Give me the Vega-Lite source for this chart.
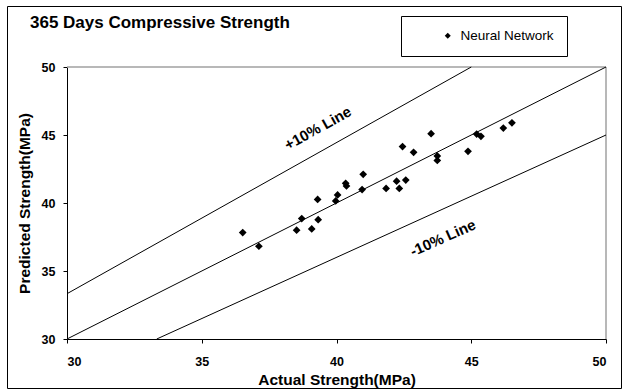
{
  "$schema": "https://vega.github.io/schema/vega-lite/v6.json",
  "autosize": {"type": "none"},
  "width": 614,
  "height": 382,
  "padding": {"left": 7, "top": 6, "right": 8, "bottom": 4},
  "background": "white",
  "config": {
    "view": {"stroke": "black", "strokeWidth": 1},
    "font": "Liberation Sans"
  },
  "title": {
    "text": "365 Days Compressive Strength",
    "anchor": "start",
    "frame": "group",
    "orient": "top",
    "offset": 0,
    "baseline": "alphabetic",
    "dx": 23,
    "dy": 39,
    "fontSize": 17,
    "fontWeight": "bold",
    "font": "Liberation Sans",
    "color": "black"
  },
  "datasets": {
    "points": [
      {"actual": 36.52, "predicted": 37.83, "series": "Neural Network"},
      {"actual": 37.12, "predicted": 36.82, "series": "Neural Network"},
      {"actual": 38.52, "predicted": 38.0, "series": "Neural Network"},
      {"actual": 38.71, "predicted": 38.86, "series": "Neural Network"},
      {"actual": 39.08, "predicted": 38.09, "series": "Neural Network"},
      {"actual": 39.3, "predicted": 40.26, "series": "Neural Network"},
      {"actual": 39.32, "predicted": 38.77, "series": "Neural Network"},
      {"actual": 39.97, "predicted": 40.15, "series": "Neural Network"},
      {"actual": 40.04, "predicted": 40.59, "series": "Neural Network"},
      {"actual": 40.34, "predicted": 41.45, "series": "Neural Network"},
      {"actual": 40.37, "predicted": 41.25, "series": "Neural Network"},
      {"actual": 40.95, "predicted": 40.99, "series": "Neural Network"},
      {"actual": 40.99, "predicted": 42.11, "series": "Neural Network"},
      {"actual": 41.84, "predicted": 41.07, "series": "Neural Network"},
      {"actual": 42.23, "predicted": 41.6, "series": "Neural Network"},
      {"actual": 42.33, "predicted": 41.07, "series": "Neural Network"},
      {"actual": 42.57, "predicted": 41.69, "series": "Neural Network"},
      {"actual": 42.45, "predicted": 44.15, "series": "Neural Network"},
      {"actual": 42.86, "predicted": 43.73, "series": "Neural Network"},
      {"actual": 43.51, "predicted": 45.1, "series": "Neural Network"},
      {"actual": 43.74, "predicted": 43.46, "series": "Neural Network"},
      {"actual": 43.74, "predicted": 43.13, "series": "Neural Network"},
      {"actual": 44.88, "predicted": 43.8, "series": "Neural Network"},
      {"actual": 45.2, "predicted": 45.07, "series": "Neural Network"},
      {"actual": 45.36, "predicted": 44.9, "series": "Neural Network"},
      {"actual": 46.19, "predicted": 45.51, "series": "Neural Network"},
      {"actual": 46.51, "predicted": 45.9, "series": "Neural Network"}
    ],
    "lines": [
      {"line": "equal", "actual": 30, "predicted": 30},
      {"line": "equal", "actual": 50, "predicted": 50},
      {"line": "plus10", "actual": 30, "predicted": 33.33},
      {"line": "plus10", "actual": 45, "predicted": 50},
      {"line": "minus10", "actual": 33.33, "predicted": 30},
      {"line": "minus10", "actual": 50, "predicted": 45}
    ],
    "edges": [
      {"edge": "top", "actual": 30, "predicted": 50},
      {"edge": "top", "actual": 50, "predicted": 50},
      {"edge": "right", "actual": 50, "predicted": 50},
      {"edge": "right", "actual": 50, "predicted": 30}
    ],
    "notes": [
      {"note": "+10% Line", "actual": 39.31, "predicted": 45.5, "tilt": -29},
      {"note": "-10% Line", "actual": 43.95, "predicted": 37.43, "tilt": -24}
    ]
  },
  "encoding": {
    "x": {
      "field": "actual",
      "type": "quantitative",
      "scale": {"domain": [30, 50], "range": [60, 599], "nice": false, "zero": false},
      "axis": {
        "title": "Actual Strength(MPa)",
        "offset": -49,
        "values": [30, 35, 40, 45, 50],
        "grid": false,
        "domainColor": "black",
        "tickColor": "black",
        "tickSize": 4,
        "labelFont": "Liberation Sans",
        "labelFontSize": 12.5,
        "labelFontWeight": "bold",
        "labelColor": "black",
        "labelPadding": 12,
        "titleFont": "Liberation Sans",
        "titleFontSize": 15.5,
        "titleFontWeight": "bold",
        "titleColor": "black",
        "titlePadding": 5
      }
    },
    "y": {
      "field": "predicted",
      "type": "quantitative",
      "scale": {"domain": [30, 50], "range": [333, 61], "nice": false, "zero": false},
      "axis": {
        "title": "Predicted Strength(MPa)",
        "offset": -60,
        "values": [30, 35, 40, 45, 50],
        "grid": false,
        "domainColor": "black",
        "tickColor": "black",
        "tickSize": 4,
        "labelFont": "Liberation Sans",
        "labelFontSize": 12.5,
        "labelFontWeight": "bold",
        "labelColor": "black",
        "labelPadding": 8,
        "titleFont": "Liberation Sans",
        "titleFontSize": 15.5,
        "titleFontWeight": "bold",
        "titleColor": "black",
        "titlePadding": 9
      }
    }
  },
  "layer": [
    {
      "data": {"name": "edges"},
      "mark": {"type": "line", "color": "#a0a0a0", "strokeWidth": 1.5},
      "encoding": {"detail": {"field": "edge", "type": "nominal"}}
    },
    {
      "data": {"name": "lines"},
      "mark": {"type": "line", "color": "black", "strokeWidth": 1},
      "encoding": {"detail": {"field": "line", "type": "nominal"}}
    },
    {
      "data": {"name": "points"},
      "mark": {"type": "point", "filled": true, "color": "black", "opacity": 1, "size": 60},
      "encoding": {
        "shape": {
          "field": "series",
          "type": "nominal",
          "scale": {"range": ["diamond"]},
          "legend": {
            "title": null,
            "orient": "none",
            "legendX": 394,
            "legendY": 10,
            "padding": 13,
            "strokeColor": "black",
            "fillColor": "white",
            "symbolSize": 36,
            "symbolFillColor": "black",
            "symbolOffset": 27,
            "labelOffset": 6,
            "labelFont": "Liberation Sans",
            "labelFontSize": 13.5,
            "labelColor": "black",
            "labelExpr": "datum.label + '\u00a0\u00a0\u00a0\u00a0\u00a0\u00a0\u00a0\u00a0\u00a0\u00a0'"
          }
        }
      }
    },
    {
      "data": {"name": "notes"},
      "mark": {"type": "text", "font": "Liberation Sans", "fontSize": 15, "fontWeight": "bold", "color": "black", "align": "center", "baseline": "middle"},
      "encoding": {
        "text": {"field": "note", "type": "nominal"},
        "angle": {"field": "tilt", "type": "quantitative", "scale": null}
      }
    }
  ]
}
